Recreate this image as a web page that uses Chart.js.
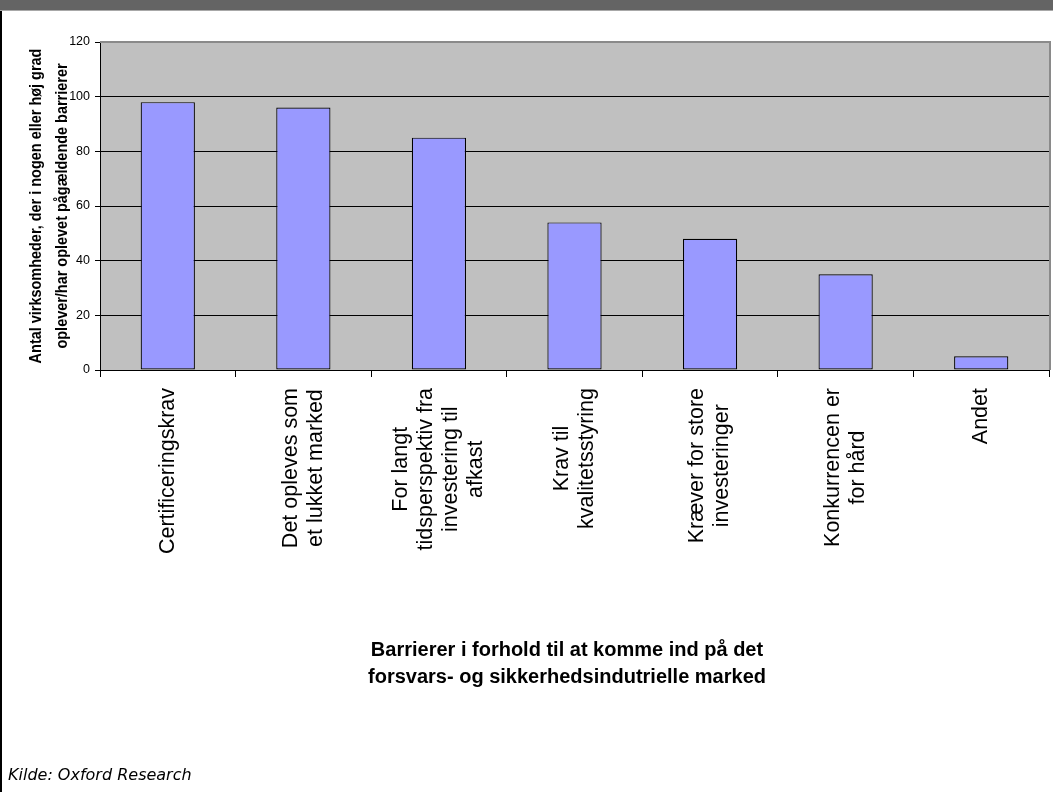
<!DOCTYPE html>
<html>
<head>
<meta charset="utf-8">
<script src="https://cdn.jsdelivr.net/npm/chart.js@4/dist/chart.umd.min.js"></script>
<style>
  html, body { margin: 0; padding: 0; background: #fff; }
  canvas { display: block; }
</style>
</head>
<body>
<canvas id="barChart" width="1053" height="792"></canvas>
<script>
const categories = [
    ['Certificeringskrav'],
    ['Det opleves som', 'et lukket marked'],
    ['For langt', 'tidsperspektiv fra', 'investering til', 'afkast'],
    ['Krav til', 'kvalitetsstyring'],
    ['Kræver for store', 'investeringer'],
    ['Konkurrencen er', 'for hård'],
    ['Andet']
];
const antal = [98, 96, 85, 54, 48, 35, 5];
const yTicks = [0, 20, 40, 60, 80, 100, 120];

const yTitle = ['Antal virksomheder, der i nogen eller høj grad', 'oplever/har oplevet pågældende barrierer'];
const xTitle = ['Barrierer i forhold til at komme ind på det', 'forsvars- og sikkerhedsindutrielle marked'];
const kilde = 'Kilde: Oxford Research';

const FONT = '"Liberation Sans", Arial, sans-serif';

// background, frame and grey plot area
const frame = {
    id: 'frame',
    beforeDraw(chart) {
        const ctx = chart.ctx;
        const a = chart.chartArea;
        ctx.save();
        ctx.fillStyle = '#fff';
        ctx.fillRect(0, 0, chart.width, chart.height);
        ctx.fillStyle = '#646464';
        ctx.fillRect(0, 0, chart.width, 10);
        ctx.fillStyle = '#a8a8a8';
        ctx.fillRect(0, 10, chart.width, 1);
        ctx.fillStyle = '#000';
        ctx.fillRect(0, 11, 2, chart.height - 11);
        ctx.fillStyle = '#c0c0c0';
        ctx.fillRect(a.left, a.top, a.right - a.left, a.bottom - a.top);
        ctx.restore();
    },
    afterDraw(chart) {
        const ctx = chart.ctx;
        const a = chart.chartArea;
        ctx.save();
        ctx.fillStyle = '#8a8a8a';
        ctx.fillRect(a.left, a.top - 1, a.right - a.left + 2, 2);
        ctx.fillRect(a.right, a.top - 1, 2, a.bottom - a.top + 1);
        ctx.restore();
    }
};

// rotated category labels (lines centred inside each block) and titles
const texts = {
    id: 'texts',
    afterDraw(chart) {
        const ctx = chart.ctx;
        const x = chart.scales.x;
        const a = chart.chartArea;
        ctx.save();
        ctx.fillStyle = '#000';

        ctx.font = '21.5px ' + FONT;
        ctx.textAlign = 'center';
        ctx.textBaseline = 'middle';
        const lh = 25;
        chart.data.labels.forEach((lines, i) => {
            const px = x.getPixelForTick(i);
            const w = Math.max(...lines.map(l => ctx.measureText(l).width));
            const cy = a.bottom + 18 + w / 2;
            lines.forEach((l, j) => {
                ctx.save();
                ctx.translate(px + (j - (lines.length - 1) / 2) * lh, cy);
                ctx.rotate(-Math.PI / 2);
                ctx.fillText(l, 0, 0);
                ctx.restore();
            });
        });

        // y title: bold, slightly condensed along the text
        ctx.font = 'bold 17px ' + FONT;
        const cyT = (a.top + a.bottom) / 2;
        yTitle.forEach((l, j) => {
            ctx.save();
            ctx.translate(36 + j * 26, cyT);
            ctx.rotate(-Math.PI / 2);
            ctx.scale(0.85, 1);
            ctx.fillText(l, 0, 0);
            ctx.restore();
        });

        ctx.font = 'bold 20px ' + FONT;
        xTitle.forEach((l, j) => {
            ctx.fillText(l, 567, 650 + j * 27);
        });

        ctx.font = 'italic 16px "DejaVu Sans", Verdana, sans-serif';
        ctx.textAlign = 'left';
        ctx.fillText(kilde, 8, 776);
        ctx.restore();
    }
};

new Chart(document.getElementById('barChart'), {
    type: 'bar',
    data: {
        labels: categories,
        datasets: [{
            data: antal,
            backgroundColor: '#9999ff',
            borderColor: '#000',
            borderWidth: 1.2,
            borderSkipped: false,
            barPercentage: 0.4,
            categoryPercentage: 1
        }]
    },
    options: {
        responsive: false,
        animation: false,
        devicePixelRatio: 1,
        layout: { padding: { top: 42, right: 4, left: 0, bottom: 0 } },
        plugins: {
            legend: { display: false },
            tooltip: { enabled: false }
        },
        scales: {
            x: {
                offset: true,
                ticks: { display: false },
                grid: {
                    offset: true,
                    drawOnChartArea: false,
                    color: '#000',
                    tickLength: 7
                },
                border: { color: '#000', width: 1 },
                afterFit(scale) { scale.height = 422; }
            },
            y: {
                min: 0,
                max: 120,
                afterBuildTicks(scale) {
                    scale.ticks = yTicks.map(v => ({ value: v }));
                },
                ticks: {
                    color: '#000',
                    font: { family: FONT, size: 12.5 },
                    padding: 5
                },
                grid: {
                    color: '#000',
                    lineWidth: 1,
                    tickLength: 5
                },
                border: { color: '#000', width: 1 },
                afterFit(scale) { scale.width = 100; }
            }
        }
    },
    plugins: [frame, texts]
});
</script>
</body>
</html>
